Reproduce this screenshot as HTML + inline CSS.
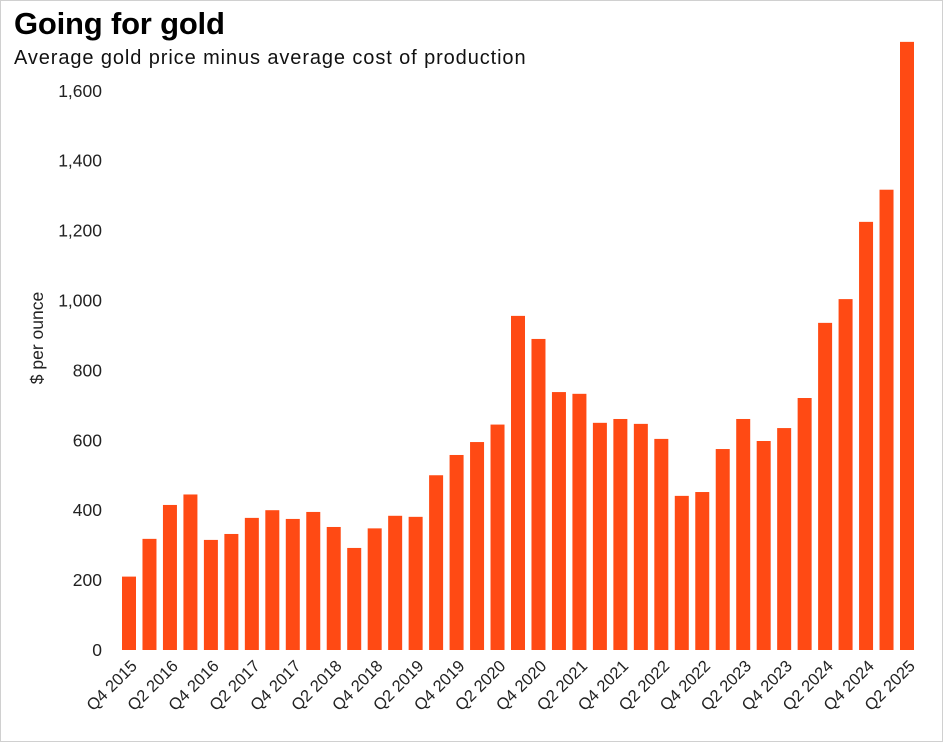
<!DOCTYPE html>
<html><head><meta charset="utf-8">
<style>
html,body{margin:0;padding:0;background:#fff;}
body{width:943px;height:742px;overflow:hidden;position:relative;font-family:"Liberation Sans",sans-serif;}
#frame{position:absolute;left:0;top:0;width:941px;height:740px;border:1px solid #d0d0d0;}
#title{position:absolute;left:14px;top:6px;font-size:31px;font-weight:bold;color:#000;letter-spacing:-0.2px;}
#subtitle{position:absolute;left:14px;top:47px;font-size:20px;color:#111;letter-spacing:0.9px;}
svg{position:absolute;left:0;top:0;}
</style></head><body>
<div id="frame"></div>
<div id="title">Going for gold</div>
<div id="subtitle">Average gold price minus average cost of production</div>
<svg id="chart" width="943" height="742"></svg>
<script>
const categories = ["Q4 2015","Q1 2016","Q2 2016","Q3 2016","Q4 2016","Q1 2017","Q2 2017","Q3 2017","Q4 2017","Q1 2018","Q2 2018","Q3 2018","Q4 2018","Q1 2019","Q2 2019","Q3 2019","Q4 2019","Q1 2020","Q2 2020","Q3 2020","Q4 2020","Q1 2021","Q2 2021","Q3 2021","Q4 2021","Q1 2022","Q2 2022","Q3 2022","Q4 2022","Q1 2023","Q2 2023","Q3 2023","Q4 2023","Q1 2024","Q2 2024","Q3 2024","Q4 2024","Q1 2025","Q2 2025"];
const values = [210,318,415,445,315,332,378,400,375,395,352,292,348,384,381,500,558,595,645,956,890,738,733,650,661,647,604,441,452,575,661,598,635,721,936,1004,1225,1317,1740];
const yTicks = [0,200,400,600,800,1000,1200,1400,1600];
const yTickLabels = ["0","200","400","600","800","1,000","1,200","1,400","1,600"];

const NS="http://www.w3.org/2000/svg";
const svg=document.getElementById('chart');
const y0=650, pxPerUnit=69.9/200;
const yScale=v=>y0-v*pxPerUnit;
const xStart=129, xEnd=907;
const step=(xEnd-xStart)/(categories.length-1);
const xScale=i=>xStart+i*step;
const barW=14;
function mk(tag,attrs){const e=document.createElementNS(NS,tag);for(const k in attrs)e.setAttribute(k,attrs[k]);svg.appendChild(e);return e;}

yTicks.forEach((t,i)=>{
  const tx=mk('text',{x:102,y:yScale(t)+6,'text-anchor':'end','font-size':17.5,fill:'#222','font-family':'Liberation Sans, sans-serif'});
  tx.textContent=yTickLabels[i];
  
  
});
const yl=mk('text',{x:0,y:0,transform:'translate(43,338) rotate(-90)','text-anchor':'middle','font-size':17.5,fill:'#222','font-family':'Liberation Sans, sans-serif'});
yl.textContent='$ per ounce';



values.forEach((v,i)=>{
  const cx=xScale(i);
  const r=mk('rect',{x:cx-barW/2,y:yScale(v),width:barW,height:y0-yScale(v),fill:'#ff4a14'});
  
  
  if(i%2===0){
    const tx=mk('text',{x:0,y:0,transform:`translate(${cx+9},${y0+17}) rotate(-45)`,'text-anchor':'end','font-size':16.5,fill:'#222','font-family':'Liberation Sans, sans-serif'});
    tx.textContent=categories[i];
    
    
  }
});
</script>
</body></html>
